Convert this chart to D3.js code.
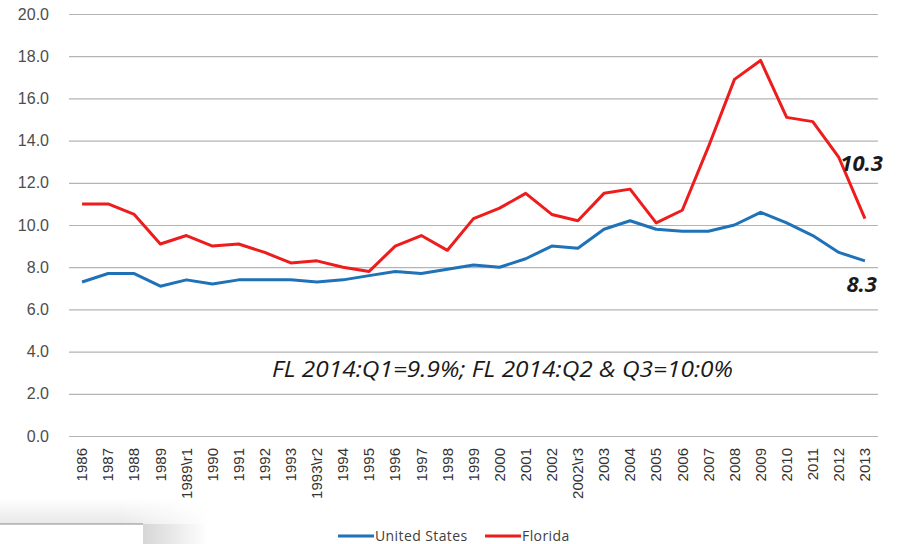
<!DOCTYPE html>
<html>
<head>
<meta charset="utf-8">
<script src="https://cdn.jsdelivr.net/npm/d3@7"></script>
<style>
  body { margin: 0; background: #fff; }
  svg { display: block; font-family: "Open Sans", "Liberation Sans", sans-serif; }
</style>
</head>
<body>
<div id="chart"></div>
<script>
// categories and series
const years = ["1986", "1987", "1988", "1989", "1989\\r1", "1990", "1991", "1992", "1993", "1993\\r2",
  "1994", "1995", "1996", "1997", "1998", "1999", "2000", "2001", "2002", "2002\\r3",
  "2003", "2004", "2005", "2006", "2007", "2008", "2009", "2010", "2011", "2012", "2013"];

const usValues = [7.3, 7.7, 7.7, 7.1, 7.4, 7.2, 7.4, 7.4, 7.4, 7.3,
  7.4, 7.6, 7.8, 7.7, 7.9, 8.1, 8.0, 8.4, 9.0, 8.9,
  9.8, 10.2, 9.8, 9.7, 9.7, 10.0, 10.6, 10.1, 9.5, 8.7, 8.3];

const flValues = [11.0, 11.0, 10.5, 9.1, 9.5, 9.0, 9.1, 8.7, 8.2, 8.3,
  8.0, 7.8, 9.0, 9.5, 8.8, 10.3, 10.8, 11.5, 10.5, 10.2,
  11.5, 11.7, 10.1, 10.7, 13.7, 16.9, 17.8, 15.1, 14.9, 13.2, 10.3];

const yTicks = [0, 2, 4, 6, 8, 10, 12, 14, 16, 18, 20];

const series = [
  { name: "United States", values: usValues, color: "#1f72b8" },
  { name: "Florida", values: flValues, color: "#ee1c1c" }
];

const note = "FL 2014:Q1=9.9%;  FL 2014:Q2 & Q3=10:0%";

const width = 898;
const height = 544;
const margin = { top: 14, right: 20, bottom: 108, left: 69 };

const svg = d3.select("#chart")
  .append("svg")
  .attr("width", width)
  .attr("height", height);

const x = d3.scaleBand()
  .domain(years)
  .range([margin.left, width - margin.right]);

const y = d3.scaleLinear()
  .domain([0, 20])
  .range([height - margin.bottom, margin.top]);

// horizontal gridlines + y labels
const yAxis = svg.append("g")
  .attr("transform", `translate(${margin.left},0)`)
  .call(d3.axisLeft(y)
    .tickValues(yTicks)
    .tickFormat(d3.format(".1f"))
    .tickSize(-(width - margin.left - margin.right))
    .tickPadding(20));

yAxis.select(".domain").remove();
yAxis.selectAll(".tick line").attr("stroke", "#b4b4b4").attr("stroke-width", 1.2);
yAxis.selectAll(".tick text")
  .attr("fill", "#4d4d4d")
  .style("font-size", "16px");

// x labels rotated
const xAxis = svg.append("g")
  .attr("transform", `translate(0,${height - margin.bottom})`)
  .call(d3.axisBottom(x).tickSize(0));

xAxis.select(".domain").remove();
xAxis.selectAll(".tick text")
  .attr("fill", "#333")
  .style("font-size", "15px")
  .attr("text-anchor", "end")
  .attr("transform", "rotate(-90)")
  .attr("x", -12)
  .attr("y", 0)
  .attr("dy", "0.35em");

// lines
const line = d3.line()
  .x((d, i) => x(years[i]) + x.bandwidth() / 2)
  .y(d => y(d));

svg.append("g")
  .selectAll("path")
  .data(series)
  .join("path")
  .attr("d", d => line(d.values))
  .attr("fill", "none")
  .attr("stroke", d => d.color)
  .attr("stroke-width", 3)
  .attr("stroke-linejoin", "round");

// end labels
const last = years.length - 1;
const lastX = x(years[last]) + x.bandwidth() / 2;

svg.append("text")
  .attr("x", lastX + 18)
  .attr("y", y(flValues[last]) - 55)
  .attr("text-anchor", "end")
  .attr("dy", "0.35em")
  .style("font-size", "22px")
  .style("font-weight", "bold")
  .style("font-style", "italic")
  .attr("fill", "#1a1a1a")
  .text(d3.format(".1f")(flValues[last]));

svg.append("text")
  .attr("x", lastX + 12)
  .attr("y", y(usValues[last]) + 23)
  .attr("text-anchor", "end")
  .attr("dy", "0.35em")
  .style("font-size", "22px")
  .style("font-weight", "bold")
  .style("font-style", "italic")
  .attr("fill", "#1a1a1a")
  .text(d3.format(".1f")(usValues[last]));

// annotation
svg.append("text")
  .attr("x", 272)
  .attr("y", 377)
  .style("font-size", "21px")
  .style("font-style", "italic")
  .attr("fill", "#1a1a1a")
  .attr("textLength", 461)
  .attr("lengthAdjust", "spacingAndGlyphs")
  .text(note);

// legend
const legendPos = [338, 485];
const legend = svg.append("g")
  .selectAll("g")
  .data(series)
  .join("g")
  .attr("transform", (d, i) => `translate(${legendPos[i]},536)`);

legend.append("line")
  .attr("x1", 0).attr("x2", 36)
  .attr("stroke", d => d.color)
  .attr("stroke-width", 3);

legend.append("text")
  .attr("x", 37)
  .attr("dy", "0.35em")
  .style("font-size", "14px")
  .style("letter-spacing", "0.4px")
  .attr("fill", "#404040")
  .text(d => d.name);

// faint screenshot edge in the bottom-left corner
const defs = svg.append("defs");
const fadeRight = defs.append("linearGradient")
  .attr("id", "fadeRight")
  .attr("x1", 0).attr("x2", 1);
fadeRight.append("stop").attr("offset", 0).attr("stop-color", "#d6d6d6");
fadeRight.append("stop").attr("offset", 1).attr("stop-color", "#ffffff");

const fadeUp = defs.append("linearGradient")
  .attr("id", "fadeUp")
  .attr("x1", 0).attr("x2", 0).attr("y1", 1).attr("y2", 0);
fadeUp.append("stop").attr("offset", 0).attr("stop-color", "#e8e8e8");
fadeUp.append("stop").attr("offset", 1).attr("stop-color", "#ffffff");

const maskGrad = defs.append("linearGradient")
  .attr("id", "maskGrad")
  .attr("gradientUnits", "userSpaceOnUse")
  .attr("x1", 120).attr("x2", 210).attr("y1", 0).attr("y2", 0);
maskGrad.append("stop").attr("offset", 0).attr("stop-color", "#fff");
maskGrad.append("stop").attr("offset", 1).attr("stop-color", "#000");

defs.append("mask")
  .attr("id", "edgeMask")
  .attr("maskUnits", "userSpaceOnUse")
  .attr("x", 0).attr("y", 490).attr("width", 220).attr("height", 40)
  .append("rect")
  .attr("x", 0).attr("y", 490).attr("width", 220).attr("height", 40)
  .attr("fill", "url(#maskGrad)");

svg.append("rect")
  .attr("x", 0).attr("y", 498)
  .attr("width", 210).attr("height", 26)
  .attr("fill", "url(#fadeUp)")
  .attr("mask", "url(#edgeMask)");

svg.append("rect")
  .attr("x", 143).attr("y", 524)
  .attr("width", 65).attr("height", 20)
  .attr("fill", "url(#fadeRight)");

svg.append("line")
  .attr("x1", 0).attr("x2", 143)
  .attr("y1", 524).attr("y2", 524)
  .attr("stroke", "#8a8a8a")
  .attr("stroke-width", 1.2);
</script>
</body>
</html>
